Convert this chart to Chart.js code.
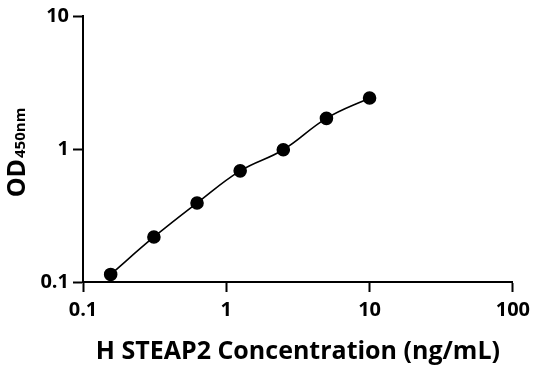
<!DOCTYPE html>
<html>
<head>
<meta charset="utf-8">
<script src="https://cdn.jsdelivr.net/npm/chart.js@4.4.1/dist/chart.umd.min.js"></script>
<style>
  html, body { margin: 0; padding: 0; background: #fff; }
  #wrap { width: 536px; height: 371px; }
</style>
</head>
<body>
<div id="wrap"><canvas id="stdCurve" width="536" height="371"></canvas></div>
<script>
// standard curve data
const concentrations = [0.156, 0.3125, 0.625, 1.25, 2.5, 5, 10];
const odValues = [0.114, 0.218, 0.393, 0.685, 0.988, 1.70, 2.42];
const xTicks = [0.1, 1, 10, 100];
const yTicks = [0.1, 1, 10];

const FONT = "'Open Sans', 'DejaVu Sans', sans-serif";

const points = concentrations.map((c, i) => ({ x: c, y: odValues[i] }));

// y title with subscript: OD450nm
const yTitlePlugin = {
  id: "yTitle",
  afterDraw(chart) {
    const ctx = chart.ctx;
    ctx.save();
    ctx.translate(25, 153);
    ctx.rotate(-Math.PI / 2);
    ctx.fillStyle = "#000";
    ctx.textBaseline = "alphabetic";
    ctx.font = "bold 25px " + FONT;
    const w1 = ctx.measureText("OD").width;
    ctx.font = "bold 15px " + FONT;
    const w2 = ctx.measureText("450nm").width;
    const start = -(w1 + w2) / 2;
    ctx.font = "bold 25px " + FONT;
    ctx.fillText("OD", start, 0);
    ctx.font = "bold 15px " + FONT;
    ctx.fillText("450nm", start + w1 + 1, 0);
    ctx.restore();
  }
};

new Chart(document.getElementById("stdCurve"), {
  type: "scatter",
  data: {
    datasets: [{
      data: points,
      showLine: true,
      tension: 0.4,
      borderColor: "#000",
      borderWidth: 1.6,
      backgroundColor: "#000",
      pointRadius: 6,
      pointHoverRadius: 6
    }]
  },
  options: {
    responsive: false,
    animation: false,
    layout: { padding: { top: 13, right: 23, left: 0, bottom: 0 } },
    plugins: { legend: { display: false }, tooltip: { enabled: false } },
    scales: {
      x: {
        type: "logarithmic",
        min: 0.1,
        max: 100,
        afterBuildTicks: (s) => { s.ticks = xTicks.map(v => ({ value: v })); },
        afterFit: (s) => { s.height = 89; },
        border: { display: true, color: "#000", width: 2 },
        grid: { drawOnChartArea: false, drawTicks: true, tickLength: 10, tickColor: "#000", tickWidth: 2 },
        ticks: {
          color: "#000",
          padding: 6,
          font: { family: FONT, size: 20, weight: "bold" },
          maxRotation: 0,
          callback: (v) => String(v)
        },
        title: {
          display: true,
          text: "H STEAP2 Concentration (ng/mL)",
          color: "#000",
          font: { family: FONT, size: 25, weight: "bold" },
          padding: { top: 10 }
        }
      },
      y: {
        type: "logarithmic",
        min: 0.1,
        max: 10,
        afterBuildTicks: (s) => { s.ticks = yTicks.map(v => ({ value: v })); },
        afterFit: (s) => { s.width = 83; },
        border: { display: true, color: "#000", width: 2 },
        grid: { drawOnChartArea: false, drawTicks: true, tickLength: 10, tickColor: "#000", tickWidth: 2 },
        ticks: {
          color: "#000",
          padding: 4,
          font: { family: FONT, size: 20, weight: "bold" },
          callback: (v) => String(v)
        }
      }
    }
  },
  plugins: [yTitlePlugin]
});
</script>
</body>
</html>
